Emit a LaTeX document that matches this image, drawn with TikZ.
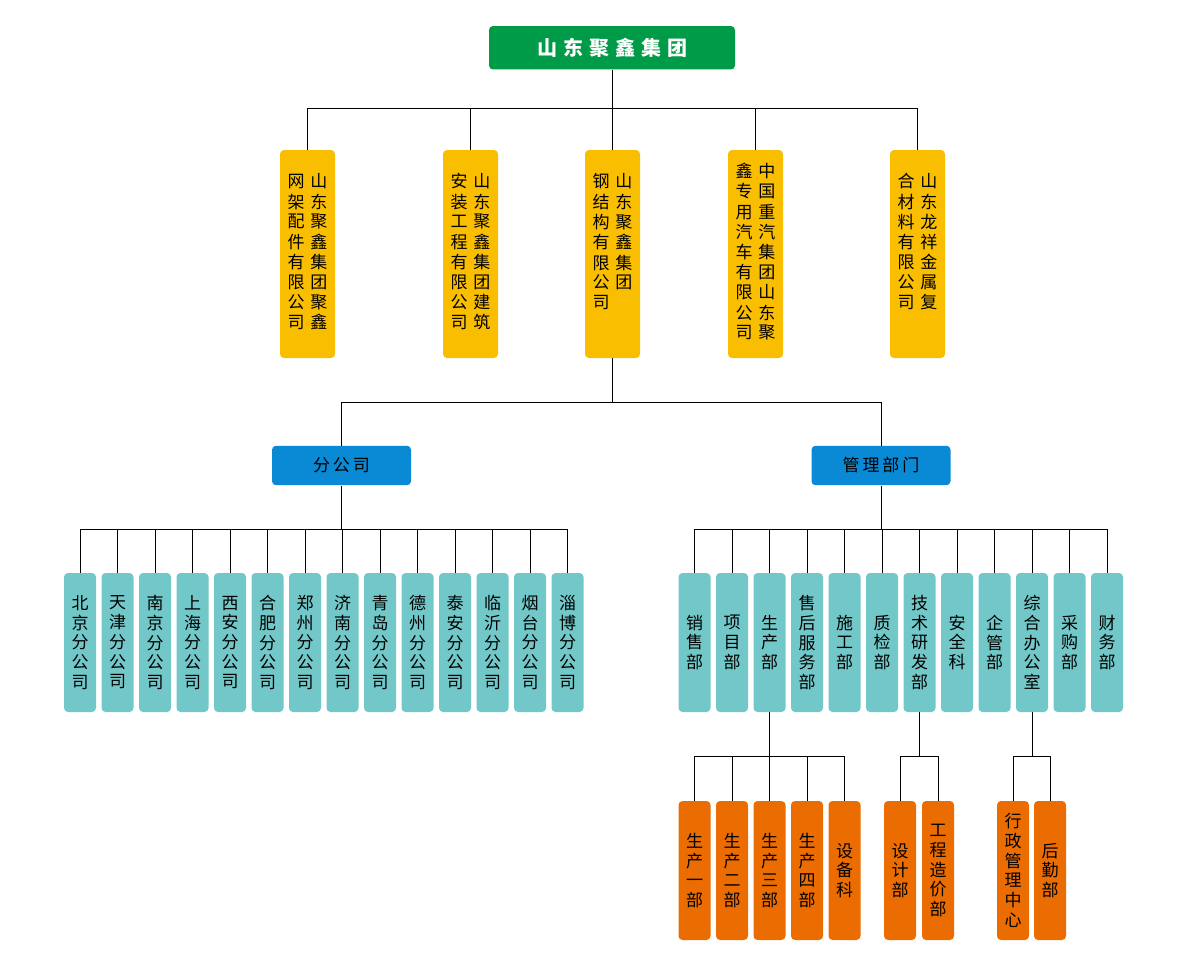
\documentclass[tikz,border=0pt]{standalone}
\usepackage{fontspec}
\usepackage{tikz}
\usetikzlibrary{positioning,calc}
\newfontfamily\cjk{Noto Sans CJK SC}
\definecolor{groupgreen}{HTML}{009B48}
\definecolor{firmyellow}{HTML}{F9BE00}
\definecolor{deptblue}{HTML}{0A89D4}
\definecolor{unitteal}{HTML}{72C7C8}
\definecolor{suborange}{HTML}{EB6C00}

\begin{document}
\begin{tikzpicture}[x=0.75pt,y=-0.75pt,
  every node/.style={font=\cjk\fontsize{12.75}{14.8}\selectfont,inner sep=0pt,rounded corners=3pt,align=center},
  firm/.style={fill=firmyellow,minimum width=41.25pt,minimum height=156pt},
  dept/.style={fill=deptblue,minimum width=104.25pt,minimum height=29.6pt},
  unit/.style={fill=unitteal,minimum width=24pt,minimum height=104.25pt},
  sub/.style={fill=suborange,minimum width=24pt,minimum height=104.25pt},
  link/.style={line width=0.75pt}]
  \useasboundingbox (0,0) rectangle (1200,956);

  \node[fill=groupgreen,minimum width=184.5pt,minimum height=32.6pt,text=white,
    font=\cjk\bfseries\fontsize{15}{18}\selectfont] (group) at (612,47.75)
    {山\hspace{4.5pt}东\hspace{4.5pt}聚\hspace{4.5pt}鑫\hspace{4.5pt}集\hspace{4.5pt}团};

  \node[firm] (firm1) at (307.5,254) {\begin{tabular}{@{}c@{\hspace{4.5pt}}c@{}}
    网&山\\架&东\\配&聚\\件&鑫\\有&集\\限&团\\公&聚\\司&鑫\end{tabular}};
  \node[firm] (firm2) at (470.5,254) {\begin{tabular}{@{}c@{\hspace{4.5pt}}c@{}}
    安&山\\装&东\\工&聚\\程&鑫\\有&集\\限&团\\公&建\\司&筑\end{tabular}};
  \node[firm] (firm3) at (612.5,254) {\begin{tabular}{@{}c@{\hspace{4.5pt}}c@{}}
    钢&山\\结&东\\构&聚\\有&鑫\\限&集\\公&团\\司&\\&\end{tabular}};
  \node[firm] (firm4) at (755.5,254) {\begin{tabular}{@{}c@{\hspace{4.5pt}}c@{}}
    鑫&中\\专&国\\用&重\\汽&汽\\车&集\\有&团\\限&山\\公&东\\司&聚\end{tabular}};
  \node[firm] (firm5) at (917.5,254) {\begin{tabular}{@{}c@{\hspace{4.5pt}}c@{}}
    合&山\\材&东\\料&龙\\有&祥\\限&金\\公&属\\司&复\\&\end{tabular}};

  \coordinate (busA) at (612,109);
  \draw[link] (group) -- (busA);
  \foreach \n in {1,...,5}
    \draw[link] (busA) -| (firm\n.north);

  \node[dept] (branch) at (341.5,465.5) {分\hspace{2.2pt}公\hspace{2.2pt}司};
  \node[dept] (mgmt) at (881,465.5) {管\hspace{2.2pt}理\hspace{2.2pt}部\hspace{2.2pt}门};

  \coordinate (busB) at (612.5,402);
  \draw[link] (firm3) -- (busB);
  \draw[link] (busB) -| (branch.north);
  \draw[link] (busB) -| (mgmt.north);

  \coordinate (busC) at (branch.south |- 0,529);
  \draw[link] (branch) -- (busC);
  \foreach \name [count=\i from 0] in {北\\京\\分\\公\\司,天\\津\\分\\公\\司,南\\京\\分\\公\\司,
      上\\海\\分\\公\\司,西\\安\\分\\公\\司,合\\肥\\分\\公\\司,郑\\州\\分\\公\\司,
      济\\南\\分\\公\\司,青\\岛\\分\\公\\司,德\\州\\分\\公\\司,泰\\安\\分\\公\\司,
      临\\沂\\分\\公\\司,烟\\台\\分\\公\\司,淄\\博\\分\\公\\司} {
    \node[unit] (u\i) at (80+37.5*\i,642.5) {\name};
    \draw[link] (busC) -| (u\i.north);
  }

  \coordinate (busD) at (mgmt.south |- 0,529);
  \draw[link] (mgmt) -- (busD);
  \foreach \name [count=\i from 0] in {销\\售\\部,项\\目\\部,生\\产\\部,售\\后\\服\\务\\部,
      施\\工\\部,质\\检\\部,技\\术\\研\\发\\部,安\\全\\科,企\\管\\部,
      综\\合\\办\\公\\室,采\\购\\部,财\\务\\部} {
    \node[unit] (m\i) at (694.5+37.5*\i,642.5) {\name};
    \draw[link] (busD) -| (m\i.north);
  }

  \coordinate (busE) at (m2.south |- 0,756);
  \draw[link] (m2) -- (busE);
  \foreach \name [count=\i from 0] in {生\\产\\一\\部,生\\产\\二\\部,生\\产\\三\\部,
      生\\产\\四\\部,设\\备\\科} {
    \node[sub] (s\i) at (694.5+37.5*\i,870.5) {\name};
    \draw[link] (busE) -| (s\i.north);
  }

  \coordinate (busF) at (m6.south |- 0,756);
  \draw[link] (m6) -- (busF);
  \node[sub] (t1) at (900,870.5) {设\\计\\部};
  \node[sub] (t2) at (938,870.5) {工\\程\\造\\价\\部};
  \draw[link] (busF) -| (t1.north);
  \draw[link] (busF) -| (t2.north);

  \coordinate (busG) at (m9.south |- 0,756);
  \draw[link] (m9) -- (busG);
  \node[sub] (z1) at (1013,870.5) {行\\政\\管\\理\\中\\心};
  \node[sub] (z2) at (1050,870.5) {后\\勤\\部};
  \draw[link] (busG) -| (z1.north);
  \draw[link] (busG) -| (z2.north);
\end{tikzpicture}
\end{document}
